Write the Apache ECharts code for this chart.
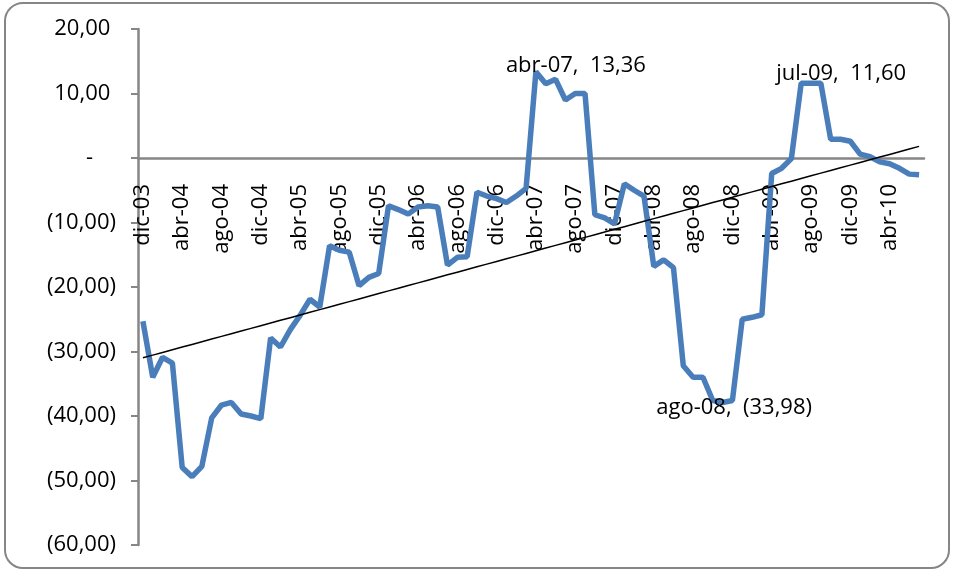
<!DOCTYPE html>
<html>
<head>
<meta charset="utf-8">
<title>Tendencia</title>
<script src="https://cdn.jsdelivr.net/npm/echarts@6/dist/echarts.min.js"></script>
<style>
  html, body { margin: 0; padding: 0; background: #fff; }
  #chart { width: 954px; height: 571px; }
</style>
</head>
<body>
<div id="chart"></div>
<script>
// meses dic-03 .. jul-10
const categories = [
  'dic-03',
  'ene-04', 'feb-04', 'mar-04', 'abr-04', 'may-04', 'jun-04', 'jul-04', 'ago-04', 'sep-04', 'oct-04', 'nov-04', 'dic-04',
  'ene-05', 'feb-05', 'mar-05', 'abr-05', 'may-05', 'jun-05', 'jul-05', 'ago-05', 'sep-05', 'oct-05', 'nov-05', 'dic-05',
  'ene-06', 'feb-06', 'mar-06', 'abr-06', 'may-06', 'jun-06', 'jul-06', 'ago-06', 'sep-06', 'oct-06', 'nov-06', 'dic-06',
  'ene-07', 'feb-07', 'mar-07', 'abr-07', 'may-07', 'jun-07', 'jul-07', 'ago-07', 'sep-07', 'oct-07', 'nov-07', 'dic-07',
  'ene-08', 'feb-08', 'mar-08', 'abr-08', 'may-08', 'jun-08', 'jul-08', 'ago-08', 'sep-08', 'oct-08', 'nov-08', 'dic-08',
  'ene-09', 'feb-09', 'mar-09', 'abr-09', 'may-09', 'jun-09', 'jul-09', 'ago-09', 'sep-09', 'oct-09', 'nov-09', 'dic-09',
  'ene-10', 'feb-10', 'mar-10', 'abr-10', 'may-10', 'jun-10', 'jul-10'
];

const values = [
  -25.3,
  -34.0, -30.9, -31.8, -48.0, -49.4, -47.8, -40.3, -38.3, -37.9, -39.7, -40.0, -40.4,
  -27.9, -29.3, -26.6, -24.4, -21.9, -23.1, -13.6, -14.3, -14.6, -19.8, -18.5, -17.9,
  -7.4, -8.0, -8.7, -7.6, -7.4, -7.6, -16.6, -15.4, -15.3, -5.3, -5.9, -6.3,
  -6.9, -5.9, -4.7, 13.36, 11.5, 12.2, 9.0, 10.0, 10.0, -8.8, -9.3, -10.2,
  -4.0, -5.0, -5.9, -16.8, -15.8, -17.0, -32.2, -33.98, -34.0, -37.6, -37.9, -37.6,
  -25.0, -24.7, -24.3, -2.4, -1.6, -0.1, 11.6, 11.6, 11.6, 2.9, 2.9, 2.6,
  0.6, 0.2, -0.6, -0.9, -1.6, -2.5, -2.6
];

// puntos con etiqueta
const labelled = ['abr-07', 'ago-08', 'jul-09'];

const fmt = v => {
  const s = Math.abs(v).toFixed(2).replace('.', ',');
  return v < 0 ? '(' + s + ')' : s;
};

const labelPlacement = {
  'abr-07': { position: 'top', offset: [40, 11] },
  'jul-09': { position: 'top', offset: [40, 8] },
  'ago-08': { position: 'bottom', offset: [41, 14] }
};

const seriesData = values.map((v, i) => {
  const cat = categories[i];
  if (!labelled.includes(cat)) return { value: v, symbol: 'none' };
  return {
    value: v,
    symbol: 'circle',
    symbolSize: 2,
    label: Object.assign({
      show: true,
      formatter: cat + ',  ' + fmt(v),
      fontSize: 22,
      color: '#000',
      fontFamily: 'Open Sans'
    }, labelPlacement[cat])
  };
});

// tendencia lineal (minimos cuadrados)
const n = values.length;
let sx = 0, sy = 0, sxx = 0, sxy = 0;
values.forEach((v, i) => { sx += i; sy += v; sxx += i * i; sxy += i * v; });
const slope = (n * sxy - sx * sy) / (n * sxx - sx * sx);
const intercept = (sy - slope * sx) / n;
const trend = values.map((_, i) => intercept + slope * i);

const axisGray = '#868686';

const chart = echarts.init(document.getElementById('chart'));
chart.setOption({
  animation: false,
  textStyle: { fontFamily: 'Open Sans' },
  graphic: [{
    type: 'rect',
    silent: true,
    shape: { x: 5, y: 3, width: 944, height: 565, r: 18 },
    style: { fill: 'none', stroke: axisGray, lineWidth: 2 }
  }],
  grid: { left: 138, right: 30, top: 29, bottom: 26, containLabel: false, outerBoundsMode: 'none' },
  xAxis: {
    type: 'category',
    data: categories,
    boundaryGap: true,
    // eje en el cero: 516px de alto para 80 unidades, cero a 387px del borde inferior
    offset: -387,
    axisLine: { onZero: false, lineStyle: { color: axisGray, width: 2.5 } },
    axisTick: { interval: 3, length: 6, lineStyle: { color: axisGray, width: 2 } },
    axisLabel: {
      interval: 3,
      rotate: 90,
      margin: 26,
      fontSize: 22,
      color: '#000',
      fontFamily: 'Open Sans'
    },
    splitLine: { show: false }
  },
  yAxis: {
    type: 'value',
    min: -60,
    max: 20,
    interval: 10,
    axisLine: { show: true, lineStyle: { color: axisGray, width: 2.5 } },
    axisTick: { show: true, length: 7, lineStyle: { color: axisGray, width: 2 } },
    axisLabel: {
      margin: 22,
      fontSize: 22,
      color: '#000',
      fontFamily: 'Open Sans',
      formatter: v => v === 0 ? '-    ' : (v > 0 ? fmt(v) + ' ' : fmt(v))
    },
    splitLine: { show: false }
  },
  series: [
    {
      type: 'line',
      data: seriesData,
      symbol: 'circle',
      showSymbol: true,
      showAllSymbol: true,
      itemStyle: { color: '#4a7ebb' },
      lineStyle: { color: '#4a7ebb', width: 5.5 },
      emphasis: { disabled: true },
      z: 2
    },
    {
      type: 'line',
      data: trend,
      symbol: 'none',
      lineStyle: { color: '#000', width: 1.5 },
      emphasis: { disabled: true },
      z: 3
    }
  ]
});
</script>
</body>
</html>
